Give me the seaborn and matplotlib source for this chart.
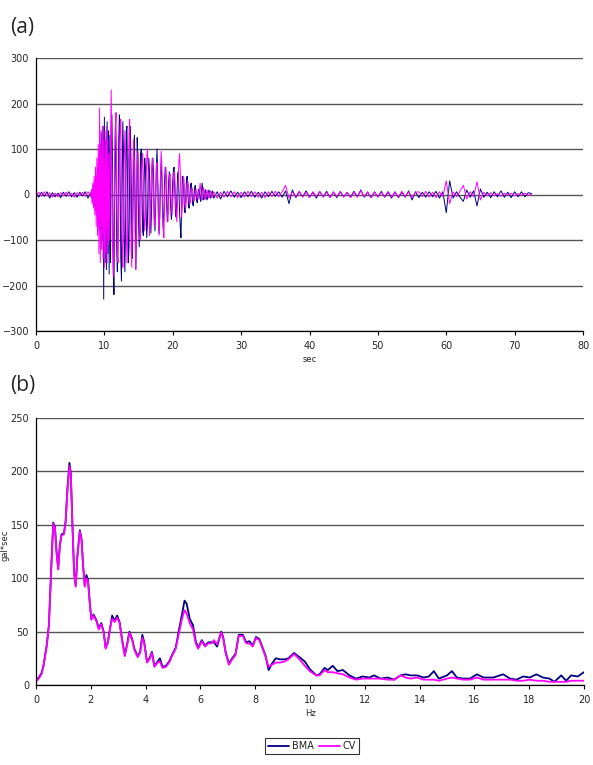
import numpy as np
import pandas as pd
import matplotlib
matplotlib.use("Agg")
import matplotlib.pyplot as plt
from matplotlib.lines import Line2D
import seaborn as sns

# --- (a) acceleration record, gal vs sec ---
# three sampling blocks: quiet start, strong motion, coda
T_PRE, DT_PRE = 0.0, 0.4
T_MAIN, DT_MAIN = 8.0, 0.1
T_TAIL, DT_TAIL = 26.0, 0.5

bma_pre = [3, -6, 5, -4, 6, -8, 4, -5, 3, -7, 5, -4, 6, -5, 4, -6, 5, -3, 6, -8]
cv_pre = [-2, 5, -4, 6, -3, 4, -6, 3, -5, 4, -3, 5, -4, 3, -6, 4, -3, 5, -4, 6]

bma_main = [
    4, -8, 12, -15, 20, -25, 30, -35, 40, -45,
    60, -70, 90, -80, 110, -120, 135, -100, 150, -230,
    170, -150, 120, -165, 160, -130, 140, -175, 130, -150,
    100, 175, 60, -150, -220, 0, 150, 80, -120, -170,
    -50, 120, 175, 30, -140, -190, 20, 160, 90, -100,
    -170, -60, 140, 150, 0, -150, -120, 60, 150, 70,
    -90, -140, -20, 110, 130, -30, -165, -60, 125, 80,
    -60, -115, -20, 90, 100, 10, -80, -90, 20, 80,
    60, -30, -95, -60, 30, 80, 50, -40, -85, -30,
    50, 80, 40, -50, -80, -20, 60, 100, 40, -40,
    -85, -50, 30, 70, 40, -30, -75, -40, 30, 60,
    40, -20, -60, -30, 30, 50, 20, -30, -55, -20,
    30, 55, 60, 10, -40, -50, -10, 40, 50, 10,
    -40, -70, -95, -30, 40, 35, 10, -30, -40, -10,
    30, 40, 10, -25, -30, -5, 20, 25, 5, -20,
    -25, -5, 15, 20, 0, -15, -18, 5, 12, 8,
    -10, -15, 5, 25, 10, -12, -10, 8, 10, -5,
    -12, -8, 6, 10, 4, -8, -6, 5, 8, -4,
]
cv_main = [
    -3, 10, -20, 25, -30, 40, -45, 60, -70, 80,
    -90, 110, -130, 190, -150, 140, -120, 150, -140, 120,
    -160, 140, -130, 150, -150, 120, -110, 90, -100, 130,
    230, 60, -120, -180, -90, 60, 140, 180, 40, -130,
    -150, -40, 100, 150, 165, 20, -120, -160, -60, 80,
    140, 60, -80, -150, -90, 50, 130, 165, 40, -110,
    -160, -60, 70, 120, 40, -100, -165, -80, 50, 95,
    60, -40, -100, -80, 20, 70, 90, 40, -40, -80,
    -50, 30, 80, 100, 50, -30, -90, -70, 10, 60,
    80, 50, -20, -70, -60, 10, 60, 70, 20, -50,
    -90, -40, 40, 95, 70, -10, -70, -95, -30, 40,
    60, 30, -40, -60, -20, 30, 45, 10, -30, -45,
    -20, 20, 50, 40, 0, -40, -60, -20, 30, 70,
    90, 50, -10, -50, -30, 10, 40, 20, -20, -30,
    -10, 15, 30, 20, -5, -20, -15, 5, 15, 10,
    -5, -15, -10, 5, 12, 5, -8, -10, 3, 8,
    25, 10, -8, -12, 5, 15, 8, -6, -10, 2,
    10, 4, -6, -8, 3, 8, 5, -4, -6, 2,
]

bma_tail = [
    -8, 6, -10, 7, -5, 8, -6, 5, -7, 6,
    -5, 7, -6, 5, -8, 6, -5, 7, -4, 6,
    -6, 8, -20, 10, -7, 6, -5, 8, -6, 5,
    -8, 6, -5, 7, -6, 5, -7, 6, -5, 4,
    -6, 7, -5, 10, -6, 5, -7, 6, -5, 7,
    -6, 5, -8, 6, -7, 5, -6, 8, -12, 6,
    -7, 5, -6, 6, -5, 7, -8, 6, -40, 30,
    -8, 6, -6, -15, 10, -6, 8, -25, 12, -6,
    5, -7, 6, -5, 8, -6, 5, -7, 6, -5,
    6, -5, 4, 2,
]
cv_tail = [
    6, -8, 5, -6, 7, -5, 6, -7, 5, -6,
    7, -5, 6, -6, 5, -7, 6, -5, 7, -5,
    6, 20, -8, 6, -5, 7, -6, 5, -7, 6,
    -5, 7, -6, 5, -7, 6, -5, 7, -6, 5,
    -7, 5, -6, 8, -5, 6, -7, 5, -6, 5,
    -5, 7, -6, 5, -6, 7, -5, 6, -7, 5,
    6, -5, 7, -6, 5, -7, 6, -5, 30, -20,
    6, -5, 7, 20, -10, 6, -5, 28, -12, 5,
    -3, 4, -3, 2, -4, 3, -2, 3, -3, 2,
    -2, 3, -2, 1,
]

# --- (b) Fourier spectrum, gal*sec vs Hz ---
freq = [
    0, 0.1, 0.2, 0.27, 0.39, 0.47, 0.53, 0.57, 0.63, 0.69,
    0.75, 0.81, 0.87, 0.93, 1.02, 1.08, 1.15, 1.22, 1.27, 1.33,
    1.39, 1.45, 1.51, 1.6, 1.66, 1.72, 1.78, 1.84, 1.9, 1.96,
    2.02, 2.1, 2.2, 2.29, 2.38, 2.47, 2.54, 2.62, 2.72, 2.78,
    2.87, 2.96, 3.05, 3.14, 3.24, 3.33, 3.41, 3.51, 3.59, 3.71,
    3.8, 3.88, 3.95, 4.05, 4.14, 4.23, 4.32, 4.44, 4.52, 4.62,
    4.74, 4.86, 4.98, 5.1, 5.22, 5.32, 5.42, 5.5, 5.61, 5.73,
    5.83, 5.92, 6.05, 6.17, 6.29, 6.41, 6.49, 6.61, 6.76, 6.83,
    6.92, 7.04, 7.16, 7.28, 7.4, 7.55, 7.67, 7.79, 7.91, 8.03,
    8.15, 8.27, 8.37, 8.49, 8.61, 8.75, 8.91, 9.07, 9.21, 9.42,
    9.62, 9.81, 9.99, 10.23, 10.35, 10.53, 10.65, 10.83, 11.0, 11.2,
    11.44, 11.68, 11.92, 12.16, 12.34, 12.58, 12.83, 13.07, 13.31, 13.49,
    13.67, 13.91, 14.15, 14.34, 14.52, 14.7, 15.0, 15.18, 15.36, 15.6,
    15.84, 16.09, 16.33, 16.69, 17.05, 17.3, 17.54, 17.78, 18.02, 18.26,
    18.5, 18.74, 18.92, 19.17, 19.35, 19.53, 19.77, 20.0,
]
spec_cv = [
    3, 6, 10, 17, 36, 55, 92, 117, 151, 147,
    124, 108, 130, 140, 141, 152, 183, 205, 196, 149,
    105, 92, 120, 144, 136, 111, 92, 100, 97, 77,
    61, 65, 60, 52, 57, 49, 34, 39, 55, 62,
    59, 63, 58, 42, 27, 38, 49, 42, 33, 26,
    30, 44, 39, 21, 24, 30, 17, 21, 22, 16,
    17, 21, 28, 34, 49, 61, 70, 67, 58, 52,
    39, 34, 41, 36, 39, 39, 42, 38, 49, 44,
    30, 19, 24, 28, 46, 46, 39, 39, 36, 44,
    42, 34, 27, 17, 19, 21, 21, 22, 24, 29,
    24, 18, 13, 9, 9, 14, 12, 12, 11, 10,
    7, 5, 6, 6, 6, 6, 5, 5, 9, 7,
    6, 7, 5, 5, 5, 4, 6, 7, 6, 5,
    5, 7, 5, 5, 5, 5, 4, 4, 5, 4,
    4, 3, 3, 3, 3, 4, 4, 4,
]
spec_bma = [
    4, 7, 11, 18, 37, 56, 93, 118, 152, 148,
    125, 109, 131, 141, 142, 153, 185, 208, 198, 150,
    106, 93, 121, 145, 137, 112, 93, 103, 98, 78,
    62, 66, 61, 53, 58, 50, 35, 40, 56, 65,
    60, 65, 59, 43, 28, 39, 50, 43, 34, 27,
    31, 47, 40, 22, 25, 31, 18, 22, 25, 17,
    18, 22, 29, 35, 52, 65, 79, 76, 62, 56,
    41, 35, 42, 37, 40, 40, 40, 36, 50, 45,
    31, 20, 25, 29, 47, 47, 40, 41, 37, 45,
    43, 35, 28, 14, 20, 25, 24, 24, 25, 30,
    26, 22, 15, 9, 10, 16, 14, 18, 13, 14,
    9, 6, 8, 7, 9, 6, 7, 5, 9, 10,
    9, 9, 7, 8, 13, 6, 9, 13, 7, 6,
    6, 10, 7, 7, 10, 6, 5, 8, 7, 10,
    7, 6, 3, 9, 4, 9, 8, 12,
]

SERIES = ["BMA", "CV"]
COLORS = {"BMA": "#000080", "CV": "#FF00FF"}


def block_times(start, step, n):
    return start + step * np.arange(n)


def wave_frame(name, pre, main, tail):
    t = np.concatenate([block_times(T_PRE, DT_PRE, len(pre)),
                        block_times(T_MAIN, DT_MAIN, len(main)),
                        block_times(T_TAIL, DT_TAIL, len(tail))])
    g = np.concatenate([pre, main, tail])
    return pd.DataFrame({"sec": t, "gal": g, "series": name})


wave = pd.concat([wave_frame("BMA", bma_pre, bma_main, bma_tail),
                  wave_frame("CV", cv_pre, cv_main, cv_tail)], ignore_index=True)
spec = pd.concat([pd.DataFrame({"Hz": freq, "amp": spec_bma, "series": "BMA"}),
                  pd.DataFrame({"Hz": freq, "amp": spec_cv, "series": "CV"})],
                 ignore_index=True)

sns.set_style("white")
plt.rcParams["font.family"] = ["DejaVu Sans"]

fig = plt.figure(figsize=(5.93, 7.65), dpi=100)
W, H = 593, 765
ax_a = fig.add_axes([36 / W, 1 - 331 / H, (583 - 36) / W, (331 - 58) / H])
ax_b = fig.add_axes([36 / W, 1 - 685 / H, (584 - 36) / W, (685 - 418) / H])

sns.lineplot(data=wave, x="sec", y="gal", hue="series", hue_order=SERIES,
             palette=COLORS, estimator=None, sort=False, lw=0.7,
             legend=False, ax=ax_a)
sns.lineplot(data=spec, x="Hz", y="amp", hue="series", hue_order=SERIES,
             palette=COLORS, estimator=None, sort=False, lw=1.3,
             legend=False, ax=ax_b)


def excel_axes(ax, xlim, xstep, ylim, ystep, xlabel):
    ax.set_xlim(*xlim)
    ax.set_ylim(*ylim)
    ax.set_xticks(np.arange(xlim[0], xlim[1] + xstep / 2, xstep))
    ax.set_yticks(np.arange(ylim[0], ylim[1] + ystep / 2, ystep))
    ax.yaxis.grid(True, color="#555555", lw=1.0)
    ax.xaxis.grid(False)
    ax.set_axisbelow(True)
    for s in ["top", "right"]:
        ax.spines[s].set_visible(False)
    for s in ["left", "bottom"]:
        ax.spines[s].set_color("black")
        ax.spines[s].set_linewidth(0.9)
    ax.tick_params(axis="both", labelsize=7, length=3, width=0.8,
                   direction="out", color="black", pad=2, left=False)
    ax.tick_params(axis="x", bottom=True, pad=4)
    ax.set_xlabel(xlabel, fontsize=6, labelpad=3)
    ax.set_ylabel("")


excel_axes(ax_a, (0, 80), 10, (-300, 300), 100, "sec")
excel_axes(ax_b, (0, 20), 2, (0, 250), 50, "Hz")

fig.text(5 / W, 1 - 545 / H, "gal*sec", rotation=90, fontsize=6,
         ha="center", va="center")
fig.text(10 / W, 1 - 28 / H, "(a)", fontsize=15, family="Open Sans",
         ha="left", va="center")
fig.text(10 / W, 1 - 385 / H, "(b)", fontsize=15, family="Open Sans",
         ha="left", va="center")

handles = [Line2D([], [], color=COLORS[s], lw=1.3) for s in SERIES]
leg = fig.legend(handles, SERIES, loc="center", ncol=2,
                 bbox_to_anchor=(312 / W, 1 - 746 / H), fontsize=7,
                 frameon=True, fancybox=False, handlelength=2.2,
                 handletextpad=0.3, columnspacing=0.5, borderpad=0.3,
                 borderaxespad=0)
leg.get_frame().set_edgecolor("black")
leg.get_frame().set_linewidth(0.8)

fig.savefig("out.png", dpi=100)
